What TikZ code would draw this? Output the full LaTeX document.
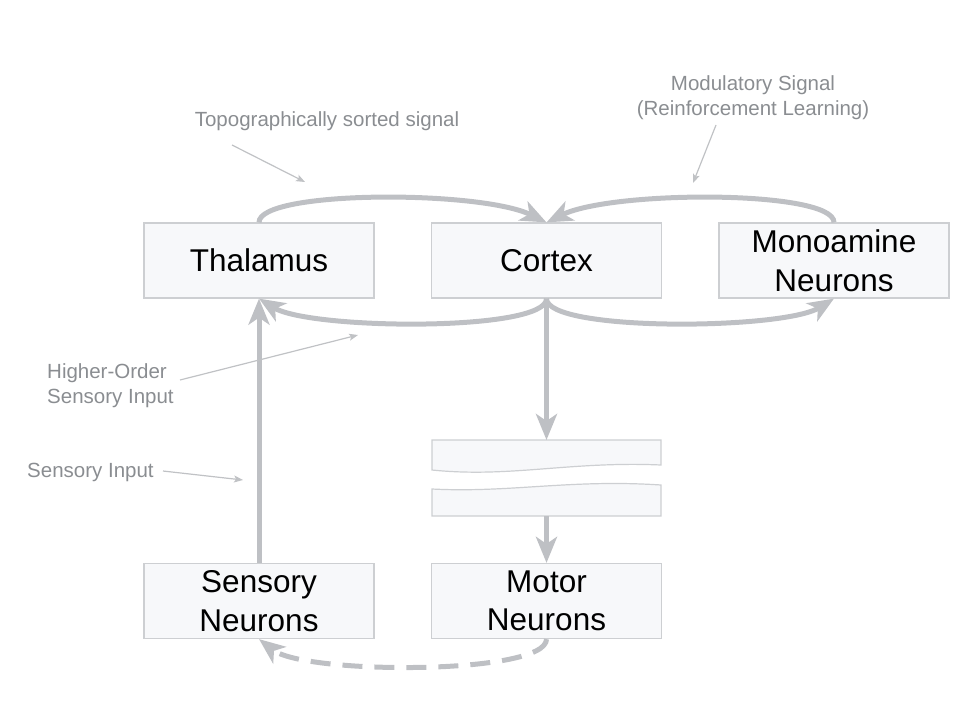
\documentclass[tikz,border=0pt]{standalone}
\usepackage{fontspec}
\setmainfont{Liberation Sans}
\usetikzlibrary{arrows.meta}
\definecolor{arr}{HTML}{BEC0C4}
\definecolor{boxfill}{HTML}{F7F8FA}
\definecolor{boxline}{HTML}{CDCFD2}
\definecolor{lbl}{HTML}{8A8D91}
\definecolor{lblarr}{HTML}{C0C2C5}
\begin{document}
\begin{tikzpicture}[x=1pt,y=-1pt,
  box/.style={draw=boxline, fill=boxfill, line width=1.2pt, minimum width=230pt, minimum height=75pt, inner sep=0pt, align=center, font=\fontsize{31.5}{38.5}\selectfont},
  flow/.style={draw=arr, line width=5pt, -{Stealth[length=26pt,width=21pt,inset=7pt]}},
  lab/.style={text=lbl, font=\fontsize{20.5}{25}\selectfont, inner sep=0pt},
  pointer/.style={draw=lblarr, line width=1.2pt, -{Stealth[length=9pt,width=7pt,inset=2pt]}},
  brk/.style={draw=boxline, fill=boxfill, line width=1.2pt}]
\useasboundingbox (0,0) rectangle (960,720);
% boxes
\node[box] (thal) at (259,260.5) {Thalamus};
\node[box] (cortex) at (546.5,260.5) {Cortex};
\node[box] (mono) at (834,260.5) {Monoamine\\Neurons};
\node[box] (sens) at (259,601) {Sensory\\Neurons};
\node[box] (motor) at (546.5,601) {Motor\\Neurons};
% broken box
\draw[brk] (432,440) -- (661,440) -- (661,465) .. controls (570,461) and (510,478) .. (432,470) -- cycle;
\draw[brk] (432,489) .. controls (510,493) and (570,479) .. (661,485) -- (661,516) -- (432,516) -- cycle;
\coordinate (brktop) at (546.5,440);
\coordinate (brkbot) at (546.5,516);
% main flows
\draw[flow] (thal.north) .. controls (259,190) and (480,190) .. (cortex.north);
\draw[flow] (mono.north) .. controls (834,190) and (613,190) .. (cortex.north);
\draw[flow] (cortex.south) .. controls (546.5,332) and (310,330) .. (thal.south);
\draw[flow] (cortex.south) .. controls (546.5,332) and (783,330) .. (mono.south);
\draw[flow] (cortex.south) -- (brktop);
\draw[flow] (brkbot) -- (motor.north);
\draw[flow] (sens.north) -- (thal.south);
\draw[flow, dash pattern=on 20pt off 12pt] (motor.south) .. controls (546.5,675) and (305,675) .. (sens.south);
% labels
\node[lab] (topo) at (327,121) {Topographically sorted signal};
\node[lab, align=center] (modu) at (753,97.5) {Modulatory Signal\\(Reinforcement Learning)};
\node[lab, align=left, anchor=west] (higher) at (47,385.5) {Higher-Order\\Sensory Input};
\node[lab, anchor=west] (sinput) at (27,472) {Sensory Input};
\coordinate (topoS) at (232,145);
\coordinate (topoE) at (305,182);
\coordinate (moduS) at (716,125);
\coordinate (moduE) at (693,183);
\coordinate (highS) at (180,380);
\coordinate (highE) at (358,335);
\coordinate (sinS) at (163,471);
\coordinate (sinE) at (243,480);
\draw[pointer] (topoS) -- (topoE);
\draw[pointer] (moduS) -- (moduE);
\draw[pointer] (highS) -- (highE);
\draw[pointer] (sinS) -- (sinE);
\end{tikzpicture}
\end{document}
